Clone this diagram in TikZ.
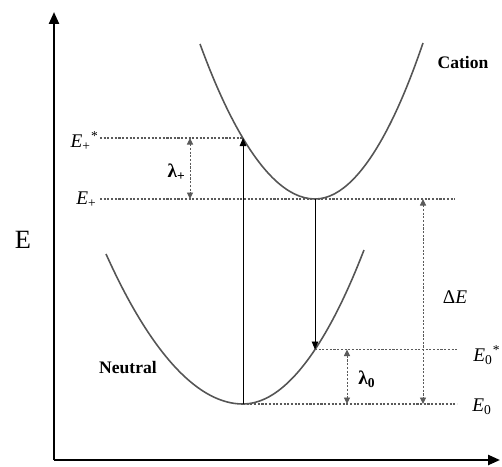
\documentclass[tikz,border=0pt]{standalone}
\usepackage{fontspec}
\setmainfont{Liberation Serif}
\usetikzlibrary{arrows.meta,positioning}
\definecolor{curvegray}{HTML}{555555}
\definecolor{levelgray}{HTML}{5A5A5A}

\begin{document}
\begin{tikzpicture}[x=0.02cm, y=-0.02cm,
  axis/.style={line width=1.3pt, -{Triangle[length=2.4mm, width=2mm]}},
  curve/.style={line width=0.9pt, curvegray},
  lvl/.style={levelgray, line width=0.6pt, dash pattern=on 1.2pt off 0.9pt},
  trans/.style={line width=0.55pt, -{Triangle[length=1.6mm, width=1.3mm]}},
  gap/.style={levelgray, line width=0.55pt, dash pattern=on 1.2pt off 0.9pt,
    {Triangle[length=1.3mm, width=1.2mm]}-{Triangle[length=1.3mm, width=1.2mm]}},
  lab/.style={font=\fontsize{11}{11}\selectfont\itshape, inner sep=0pt},
  state/.style={font=\fontsize{10}{10}\selectfont\bfseries, inner sep=0pt}
]
  \useasboundingbox (0,0) rectangle (502,466);

  % axes
  \coordinate (o) at (54,460);
  \coordinate (ytop) at (54,12);
  \coordinate (xend) at (500,460);
  \draw[axis] (o) -- (ytop);
  \draw[axis] (o) -- (xend);
  \node[font=\fontsize{15}{15}\selectfont] (elab) at (23,240) {E};

  % potential curves
  \coordinate (cmin) at (315,199);
  \coordinate (nmin) at (243,404);
  \draw[curve] (200,44) parabola bend (cmin) (423,43);
  \draw[curve] (106,254) parabola bend (nmin) (364,250);
  \node[state] (cation) at (463,62) {Cation};
  \node[state] (neutral) at (128,368) {Neutral};

  % points on the curves
  \coordinate (cvert) at (243,138);
  \coordinate (nvert) at (315,349.5);

  % energy levels
  \coordinate (estar) at (100,138);
  \coordinate (eplus) at (100,199);
  \coordinate (eplusr) at (455,199);
  \coordinate (ezero) at (457,404);
  \coordinate (ezstar) at (457,349.5);
  \draw[lvl] (estar) -- (cvert);
  \draw[lvl] (eplus) -- (eplusr);
  \draw[lvl] (nvert) -- (ezstar);
  \draw[lvl] (nmin) -- (ezero);

  \node[lab, anchor=east] (lestar) at (99,141) {E\textsubscript{\normalfont+}\textsuperscript{\normalfont*}};
  \node[lab, anchor=east] (leplus) at (97,200) {E\textsubscript{\normalfont+}};
  \node[lab, anchor=west] (lezstar) at (473,355) {E\textsubscript{\normalfont0}\textsuperscript{\normalfont*}};
  \node[lab, anchor=west] (lezero) at (472,407) {E\textsubscript{\normalfont0}};

  % vertical transitions
  \draw[trans] (nmin) -- (cvert);
  \draw[trans] (cmin) -- (nvert);

  % relaxation energies and gap
  \coordinate (lpt) at (190,138);
  \coordinate (lpb) at (190,199);
  \draw[gap] (lpt) -- (lpb);
  \node[lab, font=\fontsize{11}{11}\selectfont\bfseries, anchor=east] (lplus) at (186,172) {λ\textsubscript{+}};
  \coordinate (lzt) at (347,349.5);
  \coordinate (lzb) at (347,404);
  \draw[gap] (lzt) -- (lzb);
  \node[lab, font=\fontsize{11}{11}\selectfont\bfseries, anchor=west] (lzero) at (358,379) {λ\textsubscript{0}};
  \coordinate (det) at (423,199);
  \coordinate (deb) at (423,404);
  \draw[gap] (det) -- (deb);
  \node[lab] (de) at (455,297) {\normalfont Δ\itshape E};
\end{tikzpicture}
\end{document}
